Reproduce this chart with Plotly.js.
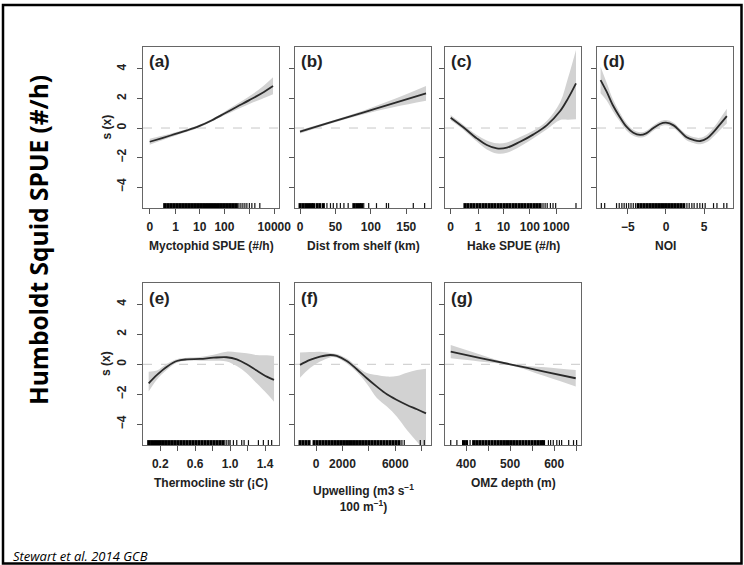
<!DOCTYPE html>
<html>
<head>
<meta charset="utf-8">
<script src="https://cdn.plot.ly/plotly-3.0.1.min.js"></script>
<style>html,body{margin:0;padding:0;background:#fff;}#chart{width:744px;height:565px;}</style>
</head>
<body>
<div id="chart"></div>
<script>
// ---------- DATA ----------
// (a) Myctophid SPUE, x stored as log10(SPUE + 0.1)
const logMyctophid = [-1.0, -0.5, 0.0, 0.5, 1.0, 1.5, 2.0, 2.5, 3.0, 3.5, 3.95];
const fitA = [-0.93, -0.68, -0.42, -0.16, 0.14, 0.53, 0.98, 1.44, 1.89, 2.36, 2.85];
const loA  = [-1.13, -0.83, -0.54, -0.26, 0.06, 0.45, 0.86, 1.26, 1.63, 1.96, 2.28];
const hiA  = [-0.73, -0.53, -0.30, -0.06, 0.22, 0.61, 1.10, 1.62, 2.15, 2.76, 3.44];
const rugDenseA  = [-0.40,-0.28,-0.16,-0.04,0.08,0.20,0.32,0.44,0.56,0.68,0.80,0.92,1.04,1.16,1.28,1.40,1.52,1.64,1.76,1.88,2.00,2.12,2.24,2.36,2.48];
const rugSparseA = [2.58,2.66,2.74,2.82,2.90,3.00,3.10,3.22,3.42];
const tickSpueA  = [0, 1, 10, 100, 10000];
const tickTextA  = ['0','1','10','100','10000'];
const minorSpueA = [1000];

// (b) Distance from shelf (km)
const distShelf = [0, 45, 90, 135, 178];
const fitB = [-0.25, 0.41, 1.06, 1.72, 2.35];
const loB  = [-0.37, 0.33, 0.93, 1.44, 1.85];
const hiB  = [-0.13, 0.49, 1.19, 2.00, 2.85];
const rugDenseB  = [0,4,8,12,16,19,24,28,33,76,80,84,87];
const rugSparseB = [38,43,47,52,57,62,68,90,97,108,122,125,160,176];
const tickB = [0, 50, 100, 150];
const tickTextB = ['0','50','100','150'];

// (c) Hake SPUE, x stored as log10(SPUE + 0.1)
const logHake = [-1.0, -0.52, -0.01, 0.37, 0.75, 1.13, 1.63, 2.14, 2.65, 3.15, 3.45, 3.75];
const fitC = [0.70, 0.05, -0.70, -1.15, -1.38, -1.33, -0.93, -0.43, 0.20, 1.15, 2.01, 3.03];
const loC  = [0.52, -0.12, -0.92, -1.45, -1.72, -1.68, -1.25, -0.70, -0.09, 0.54, 0.56, 0.59];
const hiC  = [0.88, 0.22, -0.48, -0.85, -1.04, -0.98, -0.61, -0.16, 0.50, 1.75, 3.40, 5.29];
const rugDenseC  = [-0.46,-0.35,-0.23,-0.12,0.00,0.11,0.23,0.34,0.46,0.57,0.68,0.80,0.91,1.03,1.14,1.25,1.37,1.48,1.60,1.71,1.82,1.94,2.05,2.17,2.28,2.39];
const rugSparseC = [2.50,2.58,2.66,2.78,2.88,2.98,3.75];
const tickSpueC  = [0, 1, 10, 100, 1000];
const tickTextC  = ['0','1','10','100','1000'];

// (d) NOI
const noi  = [-8.6, -7.8, -7.0, -6.1, -5.2, -4.3, -3.4, -2.6, -1.7, -0.8, 0.0, 1.0, 1.9, 2.7, 3.6, 4.5, 5.4, 6.3, 7.1, 8.0];
const fitD = [3.25, 2.46, 1.56, 0.77, 0.09, -0.32, -0.47, -0.36, -0.02, 0.27, 0.36, 0.18, -0.25, -0.63, -0.81, -0.88, -0.70, -0.25, 0.25, 0.81];
const loD  = [2.35, 1.86, 1.16, 0.47, -0.16, -0.52, -0.65, -0.54, -0.20, 0.09, 0.18, 0.00, -0.43, -0.83, -1.01, -1.10, -0.95, -0.55, -0.13, 0.31];
const hiD  = [4.15, 3.06, 1.96, 1.07, 0.34, -0.12, -0.29, -0.18, 0.16, 0.45, 0.54, 0.36, -0.07, -0.43, -0.61, -0.66, -0.45, 0.05, 0.63, 1.31];
const rugDenseD  = [-3.66,-3.26,-2.86,-2.46,-2.06,-1.66,-1.26,-0.86,-0.46,-0.06,0.34,0.74,1.14,1.54,1.94,2.34];
const rugSparseD = [-8.5,-8.06,-6.5,-6.15,-5.8,-5.5,-5.2,-4.9,-4.6,-4.3,-4.0,2.75,3.05,3.4,3.7,4.1,4.45,4.8,5.15,6.25,6.7,7.6,8.0];
const tickD = [-5, 0, 5];
const tickTextD = ['\u22125','0','5'];

// (e) Thermocline strength
const thermo = [0.067, 0.162, 0.276, 0.39, 0.505, 0.657, 0.81, 0.96, 1.076, 1.19, 1.305, 1.42, 1.503];
const fitE = [-1.27, -0.71, -0.16, 0.22, 0.33, 0.36, 0.44, 0.47, 0.33, 0.00, -0.42, -0.82, -1.04];
const loE  = [-1.82, -1.01, -0.36, 0.10, 0.23, 0.24, 0.24, 0.18, -0.12, -0.60, -1.27, -1.95, -2.49];
const hiE  = [-0.49, -0.41, 0.04, 0.34, 0.43, 0.48, 0.64, 0.84, 0.80, 0.73, 0.62, 0.60, 0.56];
const rugDenseE  = [0.067,0.10,0.134,0.168,0.202,0.236,0.27,0.304,0.338,0.372,0.406,0.44,0.474,0.508,0.542,0.576,0.61,0.644,0.678,0.712,0.746,0.78,0.814,0.848,0.882,0.916];
const rugSparseE = [0.94,0.962,0.985,1.0,1.038,1.076,1.133,1.16,1.21,1.324,1.381,1.438,1.476];
const tickE = [0.2, 0.6, 1.0, 1.4];
const tickTextE = ['0.2','0.6','1.0','1.4'];
const minorE = [0.4, 0.8, 1.2];

// (f) Upwelling
const upwelling = [-1215, -456, 304, 1063, 1570, 2329, 3089, 3848, 4608, 5367, 6127, 6886, 7646, 8329];
const fitF = [-0.04, 0.29, 0.51, 0.62, 0.56, 0.22, -0.33, -0.93, -1.49, -2.00, -2.38, -2.71, -3.00, -3.27];
const loF  = [-0.89, -0.25, 0.18, 0.46, 0.44, 0.05, -0.52, -1.30, -2.25, -2.82, -3.49, -4.38, -5.16, -5.90];
const hiF  = [0.78, 0.82, 0.84, 0.76, 0.69, 0.38, -0.15, -0.58, -0.72, -0.82, -0.78, -0.56, -0.38, -0.29];
const rugDenseF  = [-1215,-990,-760,-530,-150,80,310,540,770,1000,1230,1460,1690,1920,2150,2380,2610,2840,3070,3300,3530,3760,3990,4220,4450,4680,4910,5140,5370,5600,5830,6060,6290];
const rugSparseF = [6506,6684,7899,8202];
const tickF = [0, 2000, 6000];
const tickTextF = ['0','2000','6000'];
const minorF = [4000, 8000];

// (g) OMZ depth
const omzDepth = [365, 430, 500, 580, 649];
const fitG = [0.84, 0.43, 0.00, -0.50, -0.93];
const loG  = [0.40, 0.19, -0.06, -0.80, -1.48];
const hiG  = [1.28, 0.67, 0.06, -0.20, -0.38];
const rugDenseG  = [394,401,417,424,431,438,445,452,459,466,473,480,487,494,501,508,515,522,529,536,543,550,557,564,571,576];
const rugSparseG = [365,379,409,587,592,598,606,612,617,633,644,651];
const tickG = [400, 500, 600];
const tickTextG = ['400','500','600'];
const minorG = [450, 550, 650];

const yTicks = [-4, -2, 0, 2, 4];
const yTickText = ['\u22124','\u22122','0','2','4'];

// ---------- LAYOUT HELPERS ----------
const W = 744, H = 565;
const fx = p => p / W;
const fy = p => 1 - p / H;
const logT = v => Math.log10(v + 0.1);

const panels = [
  {lab:'(a)', x:logMyctophid, y:fitA, lo:loA, hi:hiA, rd:rugDenseA, rs:rugSparseA, box:[143,279,47,208], xr:[-1.27,4.19], yr:[-5.42,5.49], tv:tickSpueA.map(logT), tt:tickTextA, mv:minorSpueA.map(logT), title:'Myctophid SPUE (#/h)', ylab:true},
  {lab:'(b)', x:distShelf, y:fitB, lo:loB, hi:hiB, rd:rugDenseB, rs:rugSparseB, box:[295,431,47,208], xr:[-7.1,185], yr:[-5.42,5.49], tv:tickB, tt:tickTextB, mv:[], title:'Dist from shelf (km)'},
  {lab:'(c)', x:logHake, y:fitC, lo:loC, hi:hiC, rd:rugDenseC, rs:rugSparseC, box:[445,581,47,208], xr:[-1.215,3.94], yr:[-5.42,5.49], tv:tickSpueC.map(logT), tt:tickTextC, mv:[], title:'Hake SPUE (#/h)'},
  {lab:'(d)', x:noi, y:fitD, lo:loD, hi:hiD, rd:rugDenseD, rs:rugSparseD, box:[597,733,47,208], xr:[-9.07,8.81], yr:[-5.42,5.49], tv:tickD, tt:tickTextD, mv:[], title:'NOI'},
  {lab:'(e)', x:thermo, y:fitE, lo:loE, hi:hiE, rd:rugDenseE, rs:rugSparseE, box:[143,279,283,445], xr:[0.002,1.56], yr:[-5.38,5.42], tv:tickE, tt:tickTextE, mv:minorE, title:'Thermocline str (\u00a1C)', ylab:true},
  {lab:'(f)', x:upwelling, y:fitF, lo:loF, hi:hiF, rd:rugDenseF, rs:rugSparseF, box:[295,431,283,445], xr:[-1595,8709], yr:[-5.38,5.42], tv:tickF, tt:tickTextF, mv:minorF, title:'Upwelling (m3 s<sup>\u22121</sup><br>100 m<sup>\u22121</sup>)', two:true},
  {lab:'(g)', x:omzDepth, y:fitG, lo:loG, hi:hiG, rd:rugDenseG, rs:rugSparseG, box:[445,581,283,445], xr:[352,661], yr:[-5.38,5.42], tv:tickG, tt:tickTextG, mv:minorG, title:'OMZ depth (m)'}
];

const FAM = 'Liberation Sans, Arial, sans-serif';
const tickFont = {family:FAM, size:12, color:'#222', weight:'bold'};
const data = [];
const layout = {
  width: W, height: H,
  margin: {l:0, r:0, t:0, b:0},
  paper_bgcolor:'#fff', plot_bgcolor:'#fff',
  showlegend:false,
  shapes: [], annotations: []
};

panels.forEach((p, i) => {
  const n = i + 1;
  const xa = n === 1 ? 'x' : 'x' + n;
  const ya = n === 1 ? 'y' : 'y' + n;
  const xk = n === 1 ? 'xaxis' : 'xaxis' + n;
  const yk = n === 1 ? 'yaxis' : 'yaxis' + n;
  const [l, r, t, b] = p.box;

  layout[xk] = {
    domain:[fx(l), fx(r)], anchor: ya, range: p.xr,
    tickmode:'array', tickvals: p.tv, ticktext: p.tt,
    ticks:'outside', ticklen:5, tickwidth:1, tickcolor:'#555',
    minor: {tickmode:'array', tickvals: p.mv, ticks:'outside', ticklen:5, tickwidth:1, tickcolor:'#555', showgrid:false},
    showline:true, mirror:true, linecolor:'#666', linewidth:1,
    showgrid:false, zeroline:false, tickfont: tickFont, ticklabelstandoff: 3
  };
  layout[yk] = {
    domain:[fy(b), fy(t)], anchor: xa, range: p.yr,
    tickmode:'array', tickvals: yTicks, ticktext: yTickText,
    ticks:'outside', ticklen:5, tickwidth:1, tickcolor:'#555',
    showline:true, mirror:true, linecolor:'#666', linewidth:1,
    showgrid:false, zeroline:false, showticklabels: !!p.ylab,
    tickangle:-90, tickfont: tickFont, ticklabelstandoff: 6
  };

  // dashed zero line
  layout.shapes.push({type:'line', xref: xa + ' domain', yref: ya, x0:0, x1:1, y0:0, y1:0,
    line:{color:'#c8c8c8', width:1, dash:'dash'}, layer:'below'});

  // confidence band
  data.push({type:'scatter', mode:'lines', x:p.x, y:p.lo, xaxis:xa, yaxis:ya,
    line:{width:0, shape:'spline', color:'rgba(0,0,0,0)'}, hoverinfo:'skip'});
  data.push({type:'scatter', mode:'lines', x:p.x, y:p.hi, xaxis:xa, yaxis:ya, fill:'tonexty',
    fillcolor:'#d2d2d2', line:{width:0, shape:'spline', color:'rgba(0,0,0,0)'}, hoverinfo:'skip'});
  // fitted smooth
  data.push({type:'scatter', mode:'lines', x:p.x, y:p.y, xaxis:xa, yaxis:ya,
    line:{width:1.8, shape:'spline', color:'#2a2a2a'}});
  // rug
  const yb = p.yr[0];
  data.push({type:'scatter', mode:'markers', x:p.rd, y:p.rd.map(() => yb), xaxis:xa, yaxis:ya,
    marker:{symbol:'line-ns', size:7, line:{width:3, color:'#000'}}, cliponaxis:true});
  data.push({type:'scatter', mode:'markers', x:p.rs, y:p.rs.map(() => yb), xaxis:xa, yaxis:ya,
    marker:{symbol:'line-ns', size:7, line:{width:1.2, color:'#111'}}, cliponaxis:true});

  // panel label
  layout.annotations.push({xref:'paper', yref:'paper', x:fx(l + 4), y:fy(t + 15), xanchor:'left', yanchor:'middle',
    text:p.lab, showarrow:false, font:{family:FAM, size:17, color:'#222', weight:'bold'}});
  // x-axis title
  const ty = t < 100 ? 246 : (p.two ? 498 : 483);
  layout.annotations.push({xref:'paper', yref:'paper', x:fx((l + r) / 2), y:fy(ty), xanchor:'center', yanchor:'middle',
    text:p.title, showarrow:false, font:{family:FAM, size:12, color:'#222', weight:'bold'}});
  // y title s(x)
  if (p.ylab) {
    layout.annotations.push({xref:'paper', yref:'paper', x:fx(l - 37), y:fy((t + b) / 2), xanchor:'center', yanchor:'middle',
      text:'s (x)', textangle:-90, showarrow:false, font:{family:FAM, size:12, color:'#222', weight:'bold'}});
  }
});

// big side title
layout.annotations.push({xref:'paper', yref:'paper', x:fx(38), y:fy(240), xanchor:'center', yanchor:'middle',
  text:'Humboldt Squid SPUE (#/h)', textangle:-90, showarrow:false,
  font:{family:'Open Sans, sans-serif', size:24.5, color:'#000', weight:'bold'}});
// citation
layout.annotations.push({xref:'paper', yref:'paper', x:fx(11), y:fy(556), xanchor:'left', yanchor:'middle',
  text:'<i>Stewart et al. 2014 GCB</i>', showarrow:false,
  font:{family:'Open Sans, sans-serif', size:13, color:'#000'}});
// outer frame
layout.shapes.push({type:'rect', xref:'paper', yref:'paper', x0:fx(3), x1:fx(741.5), y0:fy(563.5), y1:fy(5),
  line:{color:'#000', width:2.5}, fillcolor:'rgba(0,0,0,0)'});

Plotly.newPlot('chart', data, layout, {displayModeBar:false, staticPlot:true});
</script>
</body>
</html>
